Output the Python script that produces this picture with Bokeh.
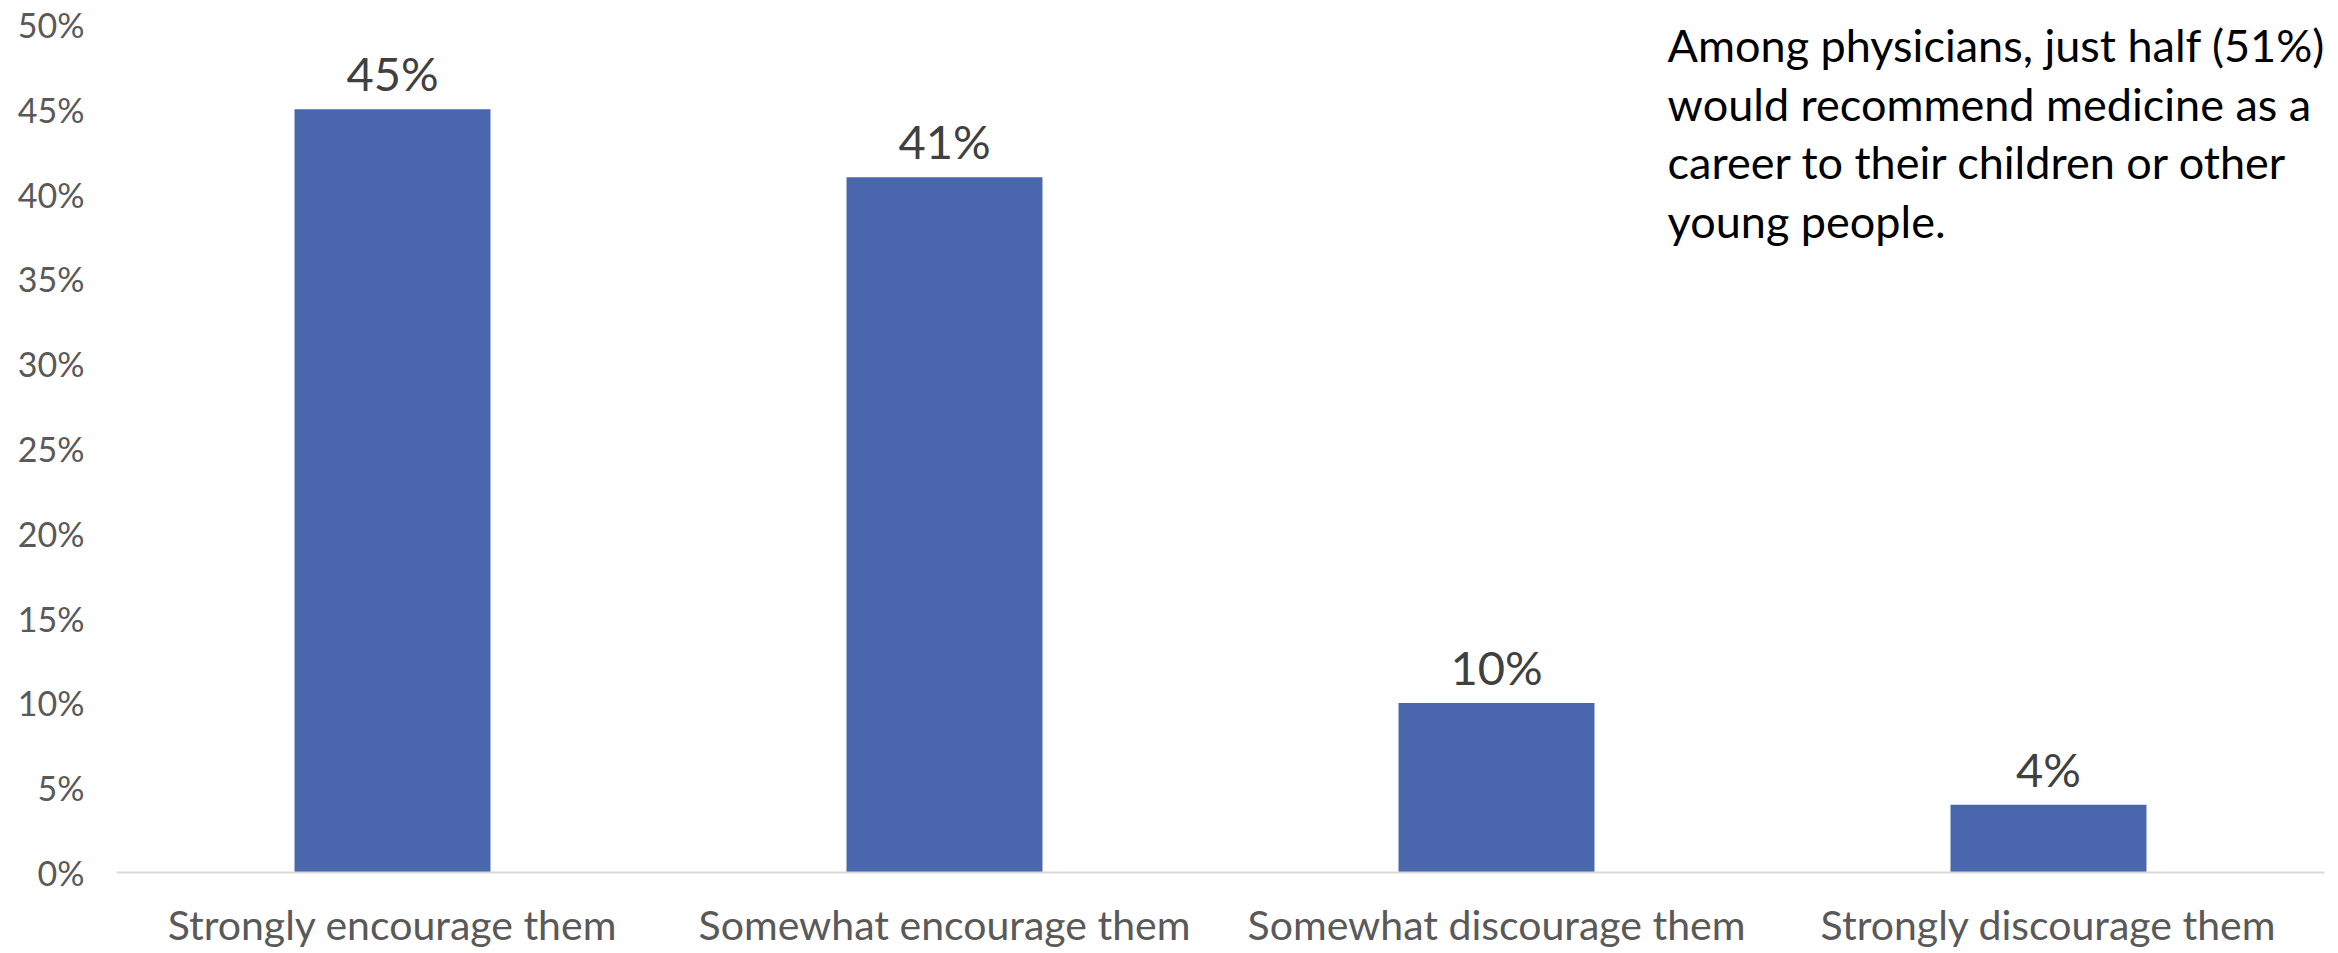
from bokeh.plotting import figure
from bokeh.models import Range1d, Label, ColumnDataSource, NumeralTickFormatter, FixedTicker
from bokeh.core.properties import value
from bokeh.embed import file_html
from bokeh.resources import INLINE

categories = ["Strongly encourage them", "Somewhat encourage them",
              "Somewhat discourage them", "Strongly discourage them"]
values = [0.45, 0.41, 0.10, 0.04]
labels = ["45%", "41%", "10%", "4%"]
y_ticks = [0, 0.05, 0.10, 0.15, 0.20, 0.25, 0.30, 0.35, 0.40, 0.45, 0.50]
note = ("Among physicians, just half (51%)\nwould recommend medicine as a\n"
        "career to their children or other\nyoung people.")

FONT = "Lato"
src = ColumnDataSource(dict(cat=categories, val=values, lab=labels))

p = figure(x_range=categories, y_range=Range1d(0, 0.5), width=2330, height=951,
           output_backend="svg", toolbar_location=None,
           min_border_left=116, min_border_right=6, min_border_top=24, min_border_bottom=60)
p.outline_line_color = None
p.xgrid.grid_line_color = None
p.ygrid.grid_line_color = None

p.vbar(x="cat", top="val", width=0.355, source=src, color="#4A66AC", line_color=None)
p.text(x="cat", y="val", text="lab", source=src, text_align="center",
       text_baseline="bottom", y_offset=-8, text_font=value(FONT),
       text_font_size="47px", text_color="#404040")

p.yaxis.ticker = FixedTicker(ticks=y_ticks)
p.yaxis.formatter = NumeralTickFormatter(format="0%")
p.yaxis.axis_line_color = None
p.yaxis.major_tick_line_color = None
p.yaxis.minor_tick_line_color = None
p.yaxis.major_label_text_font = FONT
p.yaxis.major_label_text_font_size = "34px"
p.yaxis.major_label_text_color = "#595959"
p.yaxis.major_label_standoff = 26

p.xaxis.axis_line_color = "#D9D9D9"
p.xaxis.axis_line_width = 2
p.xaxis.major_tick_line_color = None
p.xaxis.minor_tick_line_color = None
p.xaxis.major_label_text_font = FONT
p.xaxis.major_label_text_font_size = "41px"
p.xaxis.major_label_text_color = "#595959"
p.xaxis.major_label_standoff = 21

p.add_layout(Label(x=2.81, y=0.504, text=note, text_font=FONT, text_font_size="45px",
                   text_color="#000000", text_baseline="top", text_align="left",
                   text_line_height=1.09))

open("out.html", "w").write(file_html(p, INLINE))
